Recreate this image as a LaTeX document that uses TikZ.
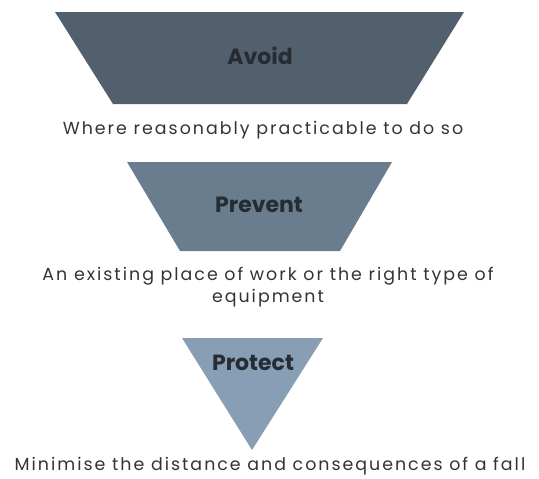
\documentclass[tikz,border=0pt]{standalone}
\usepackage{fontspec}
\setmainfont{Poppins}
\newfontfamily\spacedfont[LetterSpace=11.5]{Poppins}
\usetikzlibrary{positioning}

\definecolor{avoidcol}{HTML}{525F6D}
\definecolor{preventcol}{HTML}{6A7D8F}
\definecolor{protectcol}{HTML}{889EB4}
\definecolor{labelcol}{HTML}{252C33}
\definecolor{captioncol}{HTML}{333333}

\tikzset{
  steplabel/.style={font=\fontsize{22}{26}\selectfont\bfseries, text=labelcol},
  caption/.style={font=\spacedfont\fontsize{17.4}{21.5}\selectfont, text=captioncol, align=center}
}

\begin{document}
\begin{tikzpicture}[x=1pt, y=-1pt]
				% Batas gambar
				\useasboundingbox (0,0) rectangle (539,479);
				
				%% TRAPESIUM 1 (AVOID) %%
				\coordinate (A1) at (55,12);
				\coordinate (B1) at (464,12);
				\coordinate (C1) at (407,104);
				\coordinate (D1) at (113,104);
				\fill[avoidcol] (A1) -- (B1) -- (C1) -- (D1) -- cycle;
				\node[steplabel] (avoid) at (260,56) {Avoid};
				\node[caption] (avoidtext) at (263,130) {Where reasonably practicable to do so};
				
				%% TRAPESIUM 2 (PREVENT) %%
				\coordinate (A2) at (127,162);
				\coordinate (B2) at (392,162);
				\coordinate (C2) at (340,251);
				\coordinate (D2) at (180,251);
				\fill[preventcol] (A2) -- (B2) -- (C2) -- (D2) -- cycle;
				\node[steplabel] (prevent) at (259,205) {Prevent};
				\node[caption] (preventtext) at (268,287) {An existing place of work or the right type of\\equipment};
				
				%% SEGITIGA (PROTECT) %%
				\coordinate (A3) at (182,338);
				\coordinate (B3) at (323,338);
				\coordinate (C3) at (252,450);
				\fill[protectcol] (A3) -- (B3) -- (C3) -- cycle;
				\node[steplabel] (protect) at (253,363) {Protect};
				\node[caption] (protecttext) at (270,466) {Minimise the distance and consequences of a fall};
			\end{tikzpicture}
\end{document}
